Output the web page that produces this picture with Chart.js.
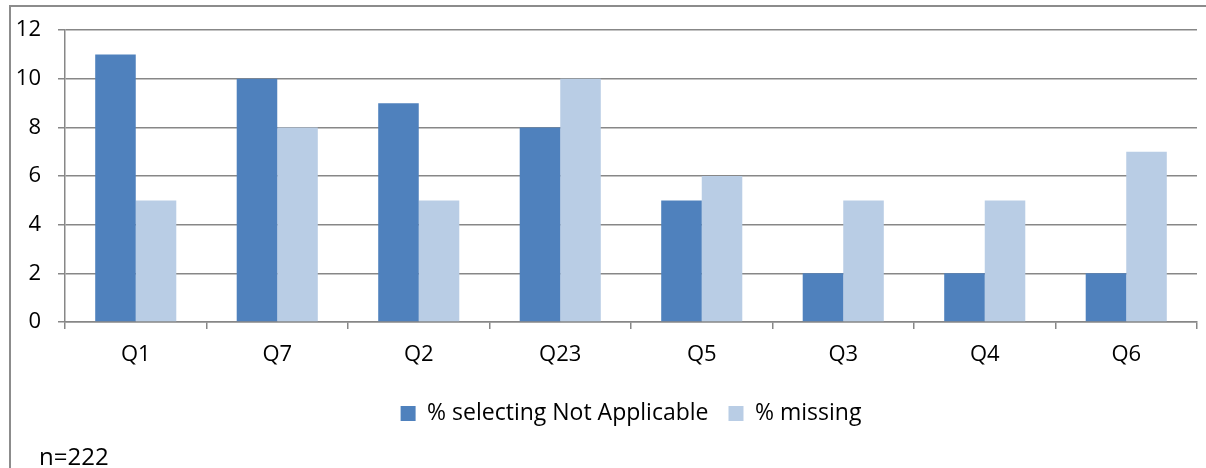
<!DOCTYPE html>
<html>
<head>
<meta charset="utf-8">
<script src="https://cdn.jsdelivr.net/npm/chart.js@4/dist/chart.umd.min.js"></script>
<style>
    body { margin: 0; background: #fff; overflow: hidden; }
    .frame { position: relative; width: 1206px; height: 468px; }
    .border-box {
        position: absolute; left: 9px; top: 5px; width: 1220px; height: 480px;
        border: 2px solid #8c8c8c; box-sizing: border-box;
    }
    canvas { position: absolute; left: 0; top: 0; }
    .note {
        position: absolute; left: 39px; top: 439px;
        font-family: "Open Sans", sans-serif; font-size: 24px; color: #000;
    }
</style>
</head>
<body>
<div class="frame">
    <div class="border-box"></div>
    <canvas id="qChart" width="1206" height="468"></canvas>
    <div class="note">n=222</div>
</div>
<script>
// Questions and percentages per series
const questions = ['Q1', 'Q7', 'Q2', 'Q23', 'Q5', 'Q3', 'Q4', 'Q6'];
const notApplicable = [11, 10, 9, 8, 5, 2, 2, 2];
const missing = [5, 8, 5, 10, 6, 5, 5, 7];
const yTicks = [0, 2, 4, 6, 8, 10, 12];

const gridColor = '#878787';
const tickFont = { family: '"Open Sans", sans-serif', size: 22 };
const legendFont = { family: '"Open Sans", sans-serif', size: 23 };

new Chart(document.getElementById('qChart'), {
    type: 'bar',
    data: {
        labels: questions,
        datasets: [{
            label: '% selecting Not Applicable',
            data: notApplicable,
            backgroundColor: '#4f81bd',
            barPercentage: 1,
            categoryPercentage: 0.573
        }, {
            label: '% missing',
            data: missing,
            backgroundColor: '#b9cde5',
            barPercentage: 1,
            categoryPercentage: 0.573
        }]
    },
    options: {
        responsive: false,
        animation: false,
        layout: { padding: { top: 30, right: 9, left: 0, bottom: 33 } },
        plugins: {
            legend: {
                position: 'bottom',
                fullSize: false,
                labels: {
                    color: '#000',
                    font: legendFont,
                    boxWidth: 15,
                    boxHeight: 15,
                    padding: 20
                }
            },
            tooltip: { enabled: false }
        },
        scales: {
            x: {
                afterFit: function(scale) { scale.height = 60; },
                grid: {
                    display: true,
                    drawOnChartArea: false,
                    drawTicks: true,
                    tickLength: 7,
                    color: gridColor,
                    lineWidth: 1.5
                },
                border: { display: true, color: gridColor, width: 1.5 },
                ticks: { color: '#000', font: tickFont, padding: 13 }
            },
            y: {
                min: 0,
                max: 12,
                afterFit: function(scale) { scale.width = 65; },
                afterBuildTicks: function(scale) {
                    scale.ticks = yTicks.map(v => ({ value: v }));
                },
                grid: {
                    color: gridColor,
                    lineWidth: 1.5,
                    drawTicks: true,
                    tickLength: 7
                },
                border: { display: true, color: gridColor, width: 1.5 },
                ticks: { color: '#000', font: tickFont, padding: 17 }
            }
        }
    }
});
</script>
</body>
</html>
